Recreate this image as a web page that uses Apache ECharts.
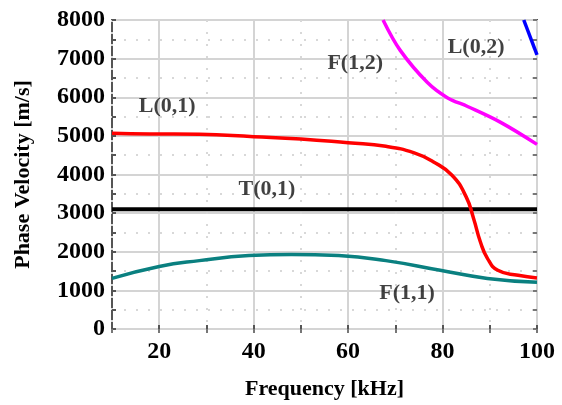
<!DOCTYPE html>
<html>
<head>
<meta charset="utf-8">
<script src="https://cdn.jsdelivr.net/npm/echarts@6/dist/echarts.min.js"></script>
<style>
  html, body { margin: 0; padding: 0; background: #fff; }
  #chart { width: 562px; height: 405px; }
</style>
</head>
<body>
<div id="chart"></div>
<script>
// 曲线数据 [频率 kHz, 相速度 m/s]
var L01 = [[10, 5070], [18, 5050], [28.5, 5040], [40, 4980], [50, 4920], [60, 4820], [68, 4730],
  [74, 4560], [78, 4330], [82, 3980], [85, 3420], [86.6, 2850], [88, 2260], [89.5, 1830],
  [91.7, 1520], [96, 1390], [100, 1320]];
var F11 = [[10, 1310], [20, 1620], [28.5, 1770], [39, 1900], [48, 1930], [58, 1900], [68, 1770],
  [79.5, 1520], [89.5, 1310], [100, 1210]];
var F12 = [[67.4, 8000], [71, 7220], [76.8, 6380], [81, 5990], [85.3, 5760], [92.3, 5350], [100, 4780]];
var L02 = [[97.2, 8000], [100, 7100]];
var T01 = [[10, 3100], [100, 3100]];
// 曲线名称标注
var modeLabels = [[21.7, 5760, "L(0,1)"], [61.5, 6890, "F(1,2)"], [87.1, 7300, "L(0,2)"],
  [42.8, 3620, "T(0,1)"], [72.5, 925, "F(1,1)"]];

var font = "Liberation Serif";
var chart = echarts.init(document.getElementById("chart"));

function line(data, color, width, smooth) {
  return {
    type: "line", data: data, smooth: smooth, showSymbol: false, symbol: "none",
    lineStyle: { color: color, width: width }, silent: true, z: 3
  };
}

var option = {
  animation: false,
  grid: { left: 112, right: 25, top: 20, bottom: 74, show: true, borderColor: "#555", borderWidth: 2 },
  xAxis: [
    {
      type: "value", min: 10, max: 100, interval: 10,
      name: "Frequency [kHz]", nameLocation: "middle", nameGap: 49,
      nameTextStyle: { fontFamily: font, fontWeight: "bold", fontSize: 22, color: "#000" },
      axisLine: { show: false },
      axisTick: { inside: true, length: 4, lineStyle: { color: "#555", width: 2 } },
      axisLabel: {
        fontFamily: font, fontWeight: "bold", fontSize: 24, color: "#000", margin: 11,
        formatter: function (v) { return v % 20 === 0 ? String(v) : ""; }
      },
      //一条实线，一条透明，交替
      splitLine: { show: true, lineStyle: { color: ["rgba(0,0,0,0)", "#d4d4d4"], width: 2, type: "solid" } }
    },
    {
      type: "value", position: "top", min: 10, max: 100, interval: 10,
      axisLine: { show: false }, axisLabel: { show: false },
      axisTick: { inside: true, length: 4, lineStyle: { color: "#777", width: 2 } },
      splitLine: { show: true, lineStyle: { color: ["#d8d8d8", "rgba(0,0,0,0)"], width: 2, type: [2, 10] } }
    }
  ],
  yAxis: [
    {
      type: "value", min: 0, max: 8000, interval: 500,
      name: "Phase Velocity [m/s]", nameLocation: "middle", nameGap: 78,
      nameTextStyle: { fontFamily: font, fontWeight: "bold", fontSize: 22, color: "#000" },
      axisLine: { show: false },
      axisTick: { inside: true, length: 4, lineStyle: { color: "#555", width: 2 } },
      axisLabel: {
        fontFamily: font, fontWeight: "bold", fontSize: 24, color: "#000", margin: 7,
        formatter: function (v) { return v % 1000 === 0 ? String(v) : ""; }
      },
      splitLine: { show: true, lineStyle: { color: ["#d4d4d4", "rgba(0,0,0,0)"], width: 2, type: "solid" } }
    },
    {
      type: "value", position: "right", min: 0, max: 8000, interval: 500,
      axisLine: { show: false }, axisLabel: { show: false },
      axisTick: { inside: true, length: 4, lineStyle: { color: "#777", width: 2 } },
      splitLine: { show: true, lineStyle: { color: ["rgba(0,0,0,0)", "#d8d8d8"], width: 2, type: [2, 10] } }
    }
  ],
  series: [
    line(T01, "#000000", 4, false),
    line(F11, "#0a8080", 3.5, true),
    line(L01, "#ff0000", 3.5, true),
    line(F12, "#ff00ff", 3.5, 0.35),
    line(L02, "#0000ff", 3.5, false),
    {
      type: "scatter", symbolSize: 0, silent: true, z: 5,
      data: modeLabels.map(function (d) { return { value: [d[0], d[1]], name: d[2] }; }),
      label: {
        show: true, position: "inside", formatter: "{b}",
        fontFamily: font, fontWeight: "bold", fontSize: 22, color: "#111"
      }
    }
  ]
};
chart.setOption(option);
</script>
</body>
</html>
